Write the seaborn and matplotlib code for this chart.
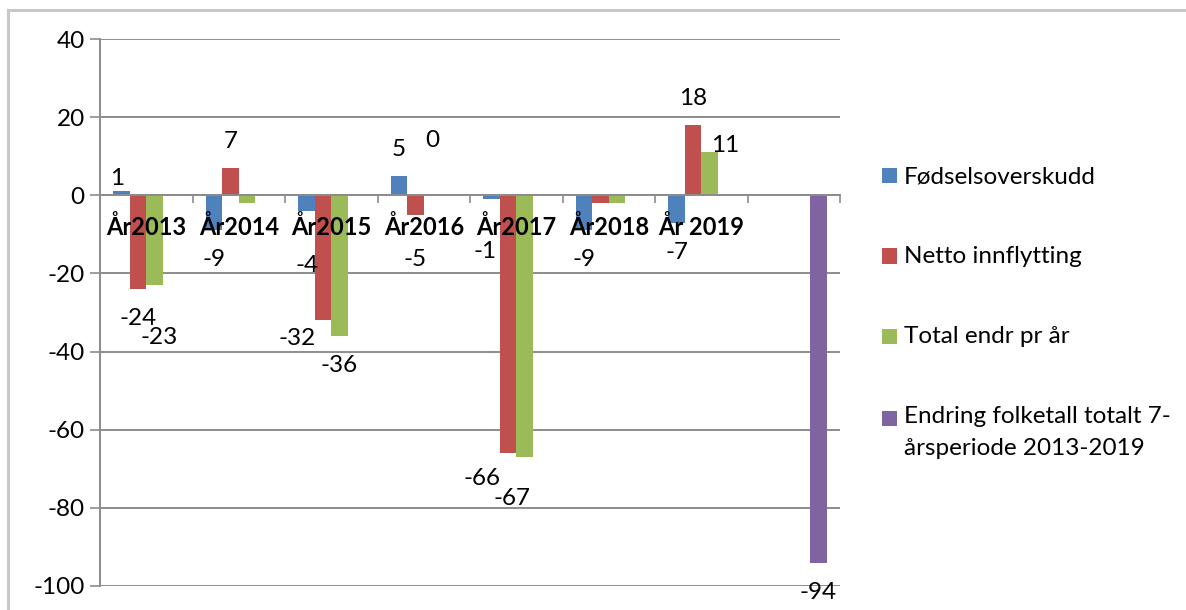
import matplotlib
matplotlib.use('Agg')
import seaborn as sns
import matplotlib.pyplot as plt
import pandas as pd
from matplotlib.lines import Line2D
from matplotlib.patches import Rectangle

# data
years = ['År2013', 'År2014', 'År2015', 'År2016', 'År2017', 'År2018', 'År 2019', '']
series = ['Fødselsoverskudd', 'Netto innflytting', 'Total endr pr år',
          'Endring folketall totalt 7-\nårsperiode 2013-2019']
fodsel = [1, -9, -4, 5, -1, -9, -7]
netto = [-24, 7, -32, -5, -66, -2, 18]
total = [-23, -2, -36, 0, -67, -2, 11]
endring_total = [-94]
colors = ['#4F81BD', '#C0504D', '#9BBB59', '#8064A2']

# labels that are not shown in the original, (category, series)
hidden = {(1, 2), (5, 1), (5, 2)}
# hand-moved data labels in the original: (dx, dy) px, relative to default spot
label_nudge = {(0, 0): (-5, -14), (0, 2): (5, 23), (2, 0): (0, 25), (2, 1): (-26, -11),
               (3, 1): (0, 15), (3, 2): (0, 28), (4, 0): (-7, 23), (4, 1): (-26, -4),
               (4, 2): (-12, 12), (6, 2): (16, -20)}

rows = []
for i, y in enumerate(years[:7]):
    rows.append((y, series[0], fodsel[i]))
    rows.append((y, series[1], netto[i]))
    rows.append((y, series[2], total[i]))
rows.append((years[7], series[3], endring_total[0]))
df = pd.DataFrame(rows, columns=['year', 'series', 'value'])

plt.rcParams['font.family'] = ['Lato', 'DejaVu Sans']
plt.rcParams['axes.unicode_minus'] = False
fs = 17.5

fig = plt.figure(figsize=(11.86, 6.10), dpi=100)
ax = fig.add_axes([100 / 1186, 1 - 586 / 610, 740 / 1186, 547 / 610])

sns.barplot(data=df, x='year', y='value', hue='series', order=years, hue_order=series,
            palette=colors, saturation=1, width=0.71, errorbar=None, legend=False,
            linewidth=0, ax=ax)

grey = '#8c8c8c'
ax.set_ylim(-100, 40)
ax.set_xlim(-0.5, 7.5)
ax.set_yticks(range(-100, 41, 20))
for v in range(-100, 41, 20):
    ax.axhline(v, color=grey, lw=1.4, zorder=0)

ax.set_xlabel('')
ax.set_ylabel('')
for s in ['top', 'right']:
    ax.spines[s].set_visible(False)
ax.spines['left'].set_color(grey)
ax.spines['left'].set_linewidth(1.4)
ax.spines['bottom'].set_position(('data', 0))
ax.spines['bottom'].set_color(grey)
ax.spines['bottom'].set_linewidth(1.4)

ax.set_xticks(range(len(years)))
ax.set_xticklabels(years, fontweight='bold', fontsize=17)
ax.set_xticks([i - 0.5 for i in range(len(years) + 1)], minor=True)
ax.tick_params(axis='x', which='major', length=0, pad=14)
ax.tick_params(axis='x', which='minor', length=6, width=1.2, color=grey, direction='out')
ax.tick_params(axis='y', length=7, width=1.2, color=grey, pad=4, labelsize=fs)

# data labels
for k, cont in enumerate(ax.containers):
    for bar in cont:
        h = bar.get_height()
        if pd.isna(h):
            continue
        xc = bar.get_x() + bar.get_width() / 2
        cat = int(round(xc))
        if (cat, k) in hidden:
            continue
        dx, dy = label_nudge.get((cat, k), (0, 0))
        if h >= 0:
            off = -(28 + dy) + 8
        else:
            off = (28 + dy) + 8
        ax.annotate(f'{int(round(h))}', (xc, h), xytext=(dx * 0.72, -off * 0.72),
                    textcoords='offset points', ha='center', va='baseline', fontsize=fs)

# legend drawn like the original, square + text
sq_y = [175, 256, 336, 418]
base_y = [183, 263, 343, 423]
for k, name in enumerate(series):
    fig.add_artist(Rectangle((882 / 1186, 1 - (sq_y[k] + 7.5) / 610), 15 / 1186, 15 / 610,
                             transform=fig.transFigure, color=colors[k], lw=0))
    for j, line in enumerate(name.split('\n')):
        fig.text(904 / 1186, 1 - (base_y[k] + 32 * j) / 610, line, ha='left', va='baseline',
                 fontsize=fs)

# chart area border
fig.add_artist(Line2D([8 / 1186, 1], [1 - 10 / 610, 1 - 10 / 610], transform=fig.transFigure,
                      color='#c8c8c8', lw=2.2))
fig.add_artist(Line2D([8 / 1186, 8 / 1186], [0, 1 - 10 / 610], transform=fig.transFigure,
                      color='#c8c8c8', lw=2.2))

fig.savefig('out.png', dpi=100)
